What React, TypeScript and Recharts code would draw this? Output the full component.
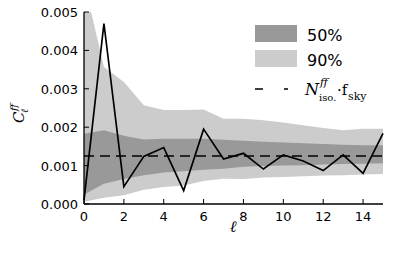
import React from 'react';
import { ComposedChart, Area, Line, XAxis, YAxis, ReferenceLine } from 'recharts';

// multipole ell and measured C_ell^ff
const ells = [0, 1, 2, 3, 4, 5, 6, 7, 8, 9, 10, 11, 12, 13, 14, 15];
const clFF = [0.0001, 0.0047, 0.00045, 0.00124, 0.00147, 0.00035, 0.00195, 0.00117, 0.00132, 0.00091, 0.00128, 0.00112, 0.00087, 0.00128, 0.0008, 0.00184];

// 90% and 50% bands
const hi90 = [0.0058, 0.00357, 0.00318, 0.00257, 0.00245, 0.00245, 0.00246, 0.00222, 0.00222, 0.00218, 0.00212, 0.00205, 0.00198, 0.00192, 0.00196, 0.00196];
const lo90 = [0.00006, 0.00016, 0.00023, 0.00037, 0.00044, 0.00048, 0.0006, 0.00066, 0.00065, 0.00069, 0.0007, 0.00072, 0.00074, 0.00075, 0.00077, 0.00078];
const hi50 = [0.00183, 0.00192, 0.00178, 0.00168, 0.0017, 0.0017, 0.0017, 0.00167, 0.00165, 0.00162, 0.0016, 0.00158, 0.00156, 0.00154, 0.00153, 0.00153];
const lo50 = [0.00025, 0.00053, 0.00065, 0.00075, 0.00082, 0.00085, 0.00089, 0.00092, 0.00097, 0.00099, 0.001, 0.00101, 0.00103, 0.00104, 0.00105, 0.00106];

const noiseLevel = 0.00125;

const xTicks = [0, 2, 4, 6, 8, 10, 12, 14];
const yTicks = [0, 0.001, 0.002, 0.003, 0.004, 0.005];

const data = ells.map((ell, i) => ({
    ell,
    cl: clFF[i],
    band90: [lo90[i], hi90[i]],
    band50: [lo50[i], hi50[i]],
}));

const sans = 'DejaVu Sans, sans-serif';
const serif = 'DejaVu Serif, serif';
const frame = { stroke: '#000', strokeWidth: 1.3 };

const BottomTick = ({ x, y, payload }: any) => (
    <g>
        <line x1={x} y1={y} x2={x} y2={y - 5} stroke="#000" />
        <text x={x} y={y + 17} textAnchor="middle" fontSize={13} fontFamily={sans} fill="#000">
            {payload.value}
        </text>
    </g>
);

const TopTick = ({ x, y }: any) => <line x1={x} y1={y} x2={x} y2={y + 5} stroke="#000" />;

const LeftTick = ({ x, y, payload }: any) => (
    <g>
        <line x1={x} y1={y} x2={x + 5} y2={y} stroke="#000" />
        <text x={x - 6} y={y + 5} textAnchor="end" fontSize={13} fontFamily={sans} fill="#000">
            {Number(payload.value).toFixed(3)}
        </text>
    </g>
);

const RightTick = ({ x, y }: any) => <line x1={x} y1={y} x2={x - 5} y2={y} stroke="#000" />;

export default function App() {
    return (
        <div style={{ position: 'absolute', left: 0, top: 0, width: 415, height: 256, background: '#fff' }}>
            <ComposedChart width={415} height={256} data={data} margin={{ top: 12, right: 32, bottom: 0, left: 0 }}>
                <XAxis
                    dataKey="ell"
                    type="number"
                    domain={[0, 15]}
                    ticks={xTicks}
                    height={52}
                    tickSize={0}
                    tickMargin={0}
                    tick={<BottomTick />}
                    axisLine={frame}
                    tickLine={false}
                />
                <XAxis
                    xAxisId="top"
                    orientation="top"
                    type="number"
                    domain={[0, 15]}
                    ticks={xTicks}
                    height={0}
                    tickSize={0}
                    tickMargin={0}
                    tick={<TopTick />}
                    axisLine={frame}
                    tickLine={false}
                />
                <YAxis
                    type="number"
                    domain={[0, 0.005]}
                    ticks={yTicks}
                    allowDataOverflow
                    width={84}
                    tickSize={0}
                    tickMargin={0}
                    tick={<LeftTick />}
                    axisLine={frame}
                    tickLine={false}
                />
                <YAxis
                    yAxisId="right"
                    orientation="right"
                    type="number"
                    domain={[0, 0.005]}
                    ticks={yTicks}
                    width={0}
                    tickSize={0}
                    tickMargin={0}
                    tick={<RightTick />}
                    axisLine={frame}
                    tickLine={false}
                />
                <Area type="linear" dataKey="band90" fill="#cccccc" fillOpacity={1} stroke="none" isAnimationActive={false} />
                <Area type="linear" dataKey="band50" fill="#999999" fillOpacity={1} stroke="none" isAnimationActive={false} />
                <ReferenceLine y={noiseLevel} stroke="#000" strokeWidth={1.6} strokeDasharray="10 6" />
                <Line
                    type="linear"
                    dataKey="cl"
                    stroke="#000"
                    strokeWidth={1.7}
                    strokeLinejoin="miter"
                    dot={false}
                    isAnimationActive={false}
                />
            </ComposedChart>
            <svg width={415} height={256} style={{ position: 'absolute', left: 0, top: 0, pointerEvents: 'none' }}>
                {/* y label */}
                <g transform="translate(24,123) rotate(-90)" fontFamily={serif} fill="#000">
                    <text x={0} y={0} fontSize={15} fontStyle="italic">C</text>
                    <text x={12} y={-7} fontSize={10} fontStyle="italic">ff</text>
                    <text x={10} y={4} fontSize={10} fontStyle="italic">ℓ</text>
                </g>
                {/* x label */}
                <text x={233} y={232} textAnchor="middle" fontSize={16} fontFamily={serif} fontStyle="italic" fill="#000">ℓ</text>
                {/* legend */}
                <rect x={255} y={25} width={42} height={17} fill="#999999" />
                <rect x={255} y={50} width={42} height={17} fill="#cccccc" />
                <text x={307} y={41} fontSize={16} fontFamily={sans} fill="#000">50%</text>
                <text x={307} y={66} fontSize={16} fontFamily={sans} fill="#000">90%</text>
                <line x1={255} y1={89} x2={288} y2={89} stroke="#000" strokeWidth={1.6} strokeDasharray="8 21" />
                <g fontFamily={serif} fill="#000">
                    <text x={305} y={95} fontSize={16} fontStyle="italic">N</text>
                    <text x={320} y={86} fontSize={11} fontStyle="italic">ff</text>
                    <text x={319} y={101} fontSize={10}>iso.</text>
                    <text x={337} y={95} fontSize={15}>·f</text>
                    <text x={348} y={100} fontSize={11}>sky</text>
                </g>
            </svg>
        </div>
    );
}
